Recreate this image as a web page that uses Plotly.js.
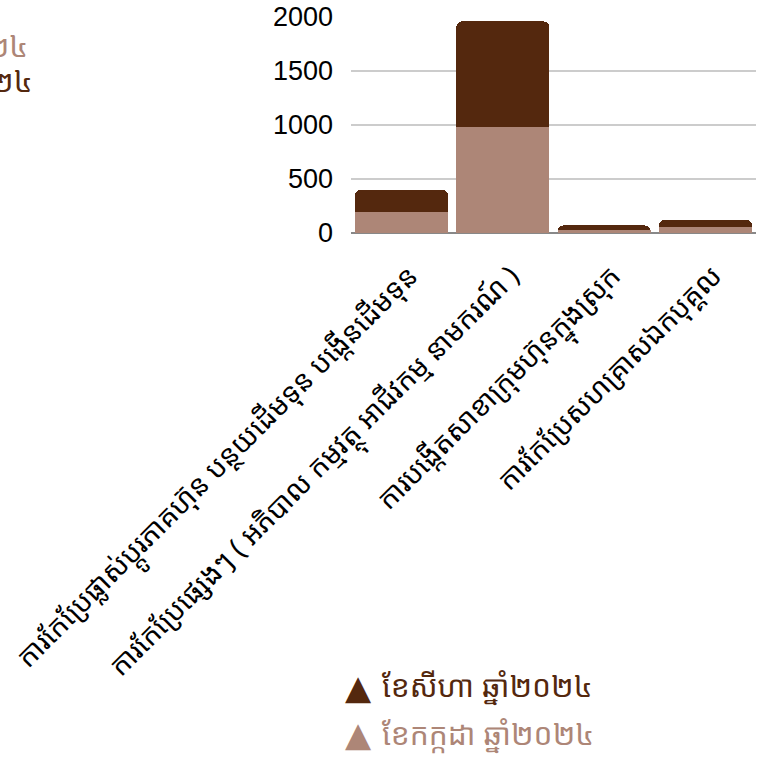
<!DOCTYPE html>
<html>
<head>
<meta charset="utf-8">
<script src="https://cdn.plot.ly/plotly-3.0.1.min.js"></script>
<style>html,body{margin:0;padding:0;background:#fff;}</style>
</head>
<body>
<div id="chart" style="width:763px;height:764px;"></div>
<script>
const categories = [
  "ការកែប្រែផ្លាស់ប្តូរភាគហ៊ុន បន្ថយដើមទុន បង្កើនដើមទុន",
  "ការកែប្រែផ្សេងៗ ( អភិបាល កម្មវត្ថុ អាជីវកម្ម នាមករណ៍ )",
  "ការបង្កើតសាខាក្រុមហ៊ុនក្នុងស្រុក",
  "ការកែប្រែសហគ្រាសឯកបុគ្គល"
];
const julyName = "ខែកក្កដា ឆ្នាំ២០២៤";
const augustName = "ខែសីហា ឆ្នាំ២០២៤";
const julyValues = [190, 985, 30, 58];
const augustValues = [210, 975, 40, 65];
const yTicks = [0, 500, 1000, 1500, 2000];

const darkColor = "#54280e";
const lightColor = "#ad8677";
const khmerFont = "'Noto Sans Khmer', 'Khmer OS', 'Noto Sans', sans-serif";

const data = [
  {type: "bar", x: categories, y: julyValues, name: julyName,
   marker: {color: lightColor}, showlegend: false},
  {type: "bar", x: categories, y: augustValues, name: augustName,
   marker: {color: darkColor}, showlegend: false}
];

const legendX = -0.02;   // paper position of the legend block
const legendTextX = 0.072;
const legendFont = 30;

const layout = {
  width: 763, height: 764,
  margin: {l: 351, r: 7, t: 17, b: 531},
  paper_bgcolor: "#fff", plot_bgcolor: "#fff",
  barmode: "stack", bargap: 0.08, barcornerradius: 6,
  showlegend: false,
  font: {family: khmerFont, color: "#000"},
  xaxis: {
    type: "category", tickangle: -45, showgrid: false, showline: false, ticks: "",
    tickfont: {family: khmerFont, size: 28, color: "#000"}, automargin: false,
    ticklabelstandoff: 20, ticklabelshift: 8
  },
  yaxis: {
    range: [0, 2000], tickvals: yTicks, ticktext: yTicks.map(String),
    showgrid: true, gridcolor: "#cccccc", gridwidth: 1.5,
    zeroline: true, zerolinecolor: "#888888", zerolinewidth: 1.5,
    tickfont: {family: "'Liberation Sans', Arial, sans-serif", size: 27, color: "#000"},
    ticklabelstandoff: 17, automargin: false
  },
  annotations: [
    {xref: "paper", yref: "paper", x: -0.7927, y: 0.869, xanchor: "right", yanchor: "middle",
     text: julyName, showarrow: false, font: {family: khmerFont, size: legendFont, color: lightColor}},
    {xref: "paper", yref: "paper", x: -0.7797, y: 0.708, xanchor: "right", yanchor: "middle",
     text: augustName, showarrow: false, font: {family: khmerFont, size: legendFont, color: darkColor}},
    {xref: "paper", yref: "paper", x: legendX, y: -2.10, xanchor: "left", yanchor: "middle",
     text: "▲", showarrow: false, font: {family: "'DejaVu Sans', sans-serif", size: 34, color: darkColor}},
    {xref: "paper", yref: "paper", x: legendTextX, y: -2.095, xanchor: "left", yanchor: "middle",
     text: augustName, showarrow: false, font: {family: khmerFont, size: legendFont, color: darkColor}},
    {xref: "paper", yref: "paper", x: legendX, y: -2.32, xanchor: "left", yanchor: "middle",
     text: "▲", showarrow: false, font: {family: "'DejaVu Sans', sans-serif", size: 34, color: lightColor}},
    {xref: "paper", yref: "paper", x: legendTextX, y: -2.315, xanchor: "left", yanchor: "middle",
     text: julyName, showarrow: false, font: {family: khmerFont, size: legendFont, color: lightColor}}
  ]
};

Plotly.newPlot("chart", data, layout, {displayModeBar: false, staticPlot: true});
</script>
</body>
</html>
